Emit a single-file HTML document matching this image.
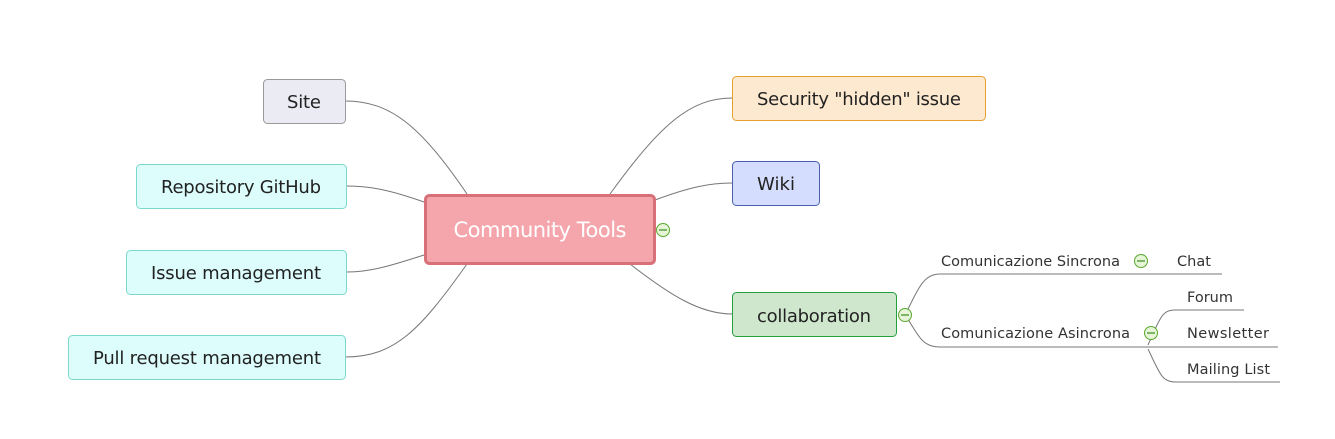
<!DOCTYPE html>
<html><head><meta charset="utf-8"><style>
html,body{margin:0;padding:0;background:#fff;}
svg{display:block;}
text{font-family:"DejaVu Sans","Liberation Sans",sans-serif;}
</style></head><body>
<svg width="1335" height="439" viewBox="0 0 1335 439" xmlns="http://www.w3.org/2000/svg">
<g fill="none" stroke="#777" stroke-width="1">
<path d="M467,194 C420,125 390,101 345,101"/>
<path d="M424,202 C390,190 370,186 347,186"/>
<path d="M424,255 C390,266 370,272 347,272"/>
<path d="M467,264 C420,330 395,357 345,357"/>
<path d="M610,194 C660,125 690,98 732,98"/>
<path d="M655,200 C690,187 710,183 732,183"/>
<path d="M630,264 C670,295 700,314 732,314"/>
<path d="M908,309 C920,285 925,274 940,274 L1222,274"/>
<path d="M908,319 C920,340 925,347 940,347 L1278,347"/>
<path d="M1148,345 C1160,318 1162,310 1175,310 L1244,310"/>
<path d="M1148,349 C1160,374 1162,382 1175,382 L1280,382"/>
</g>
<rect x="263.5" y="79.5" width="82" height="44" rx="4" fill="#ebebf3" stroke="#999"/>
<text x="304" y="108" font-size="18" text-anchor="middle" fill="#222" textLength="34">Site</text>
<rect x="136.5" y="164.5" width="210" height="44" rx="4" fill="#dcfdfb" stroke="#7dd8cc"/>
<text x="241" y="193" font-size="18" text-anchor="middle" fill="#222" textLength="160">Repository GitHub</text>
<rect x="126.5" y="250.5" width="220" height="44" rx="4" fill="#dcfdfb" stroke="#7dd8cc"/>
<text x="236" y="279" font-size="18" text-anchor="middle" fill="#222" textLength="170">Issue management</text>
<rect x="68.5" y="335.5" width="277" height="44" rx="4" fill="#dcfdfb" stroke="#7dd8cc"/>
<text x="207" y="364" font-size="18" text-anchor="middle" fill="#222" textLength="228">Pull request management</text>
<rect x="732.5" y="76.5" width="253" height="44" rx="4" fill="#fde9d0" stroke="#e8a030"/>
<text x="859" y="105" font-size="18" text-anchor="middle" fill="#222" textLength="204">Security "hidden" issue</text>
<rect x="732.5" y="161.5" width="87" height="44" rx="4" fill="#d4ddfd" stroke="#4a5fb0"/>
<text x="776" y="190" font-size="18" text-anchor="middle" fill="#222" textLength="38">Wiki</text>
<rect x="732.5" y="292.5" width="164" height="44" rx="4" fill="#cfe8cd" stroke="#22a040"/>
<text x="814" y="322" font-size="18" text-anchor="middle" fill="#222" textLength="114">collaboration</text>
<rect x="425.5" y="195.5" width="229" height="68" rx="4" fill="#f4a6ac" stroke="#d8707a" stroke-width="3"/>
<text x="540" y="237" font-size="21" text-anchor="middle" fill="#fff" textLength="173">Community Tools</text>
<g stroke="#5aa830" stroke-width="1" fill="#e6f5d8">
<circle cx="663" cy="230" r="6.5"/><circle cx="905" cy="315" r="6.5"/>
<circle cx="1141" cy="261" r="6.5"/><circle cx="1151" cy="333" r="6.5"/>
</g>
<g stroke="#3a8a20" stroke-width="1.2">
<line x1="659" y1="230" x2="667" y2="230"/><line x1="901" y1="315" x2="909" y2="315"/>
<line x1="1137" y1="261" x2="1145" y2="261"/><line x1="1147" y1="333" x2="1155" y2="333"/>
</g>
<g font-size="14.5" fill="#333">
<text x="941" y="266" textLength="179">Comunicazione Sincrona</text>
<text x="1177" y="266">Chat</text>
<text x="941" y="338" textLength="189">Comunicazione Asincrona</text>
<text x="1187" y="302">Forum</text>
<text x="1187" y="338" textLength="82">Newsletter</text>
<text x="1187" y="374" textLength="83">Mailing List</text>
</g>
</svg>
</body></html>
